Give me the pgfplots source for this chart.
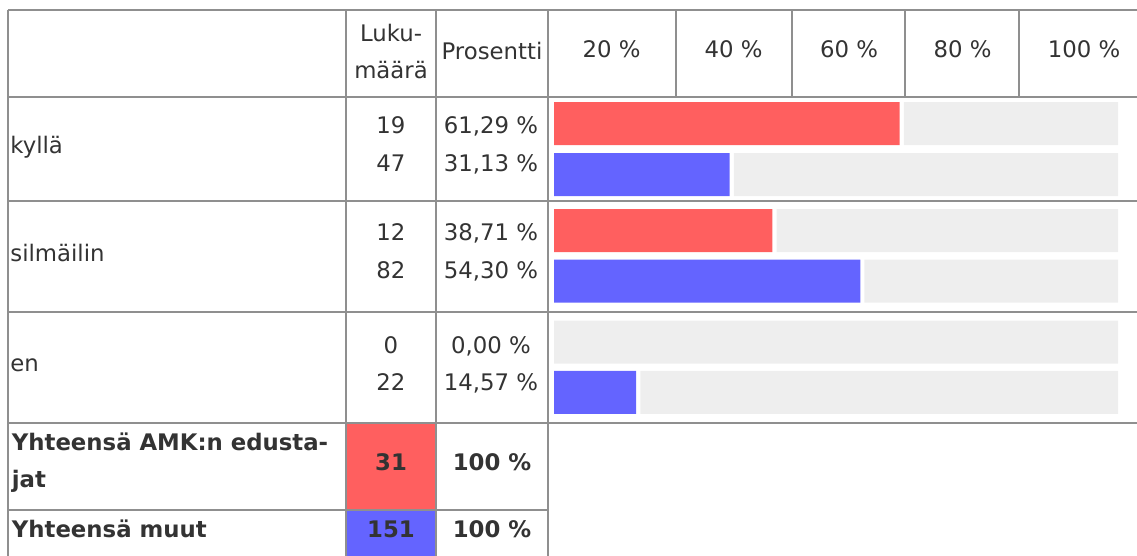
\documentclass[border=0pt]{standalone}
\usepackage{fontspec}
\setmainfont{DejaVu Sans}
\usepackage{pgfplots}
\pgfplotsset{compat=1.18}
\usepackage{pgfplotstable}
\definecolor{amk}{HTML}{FF5F5F}
\definecolor{muut}{HTML}{6464FF}
\definecolor{track}{HTML}{EEEEEE}
\definecolor{rulec}{HTML}{8F8F8F}
\definecolor{tc}{HTML}{333333}

% AMK:n edustajat (red) and muut (blue): y = pixel row of the bar centre,
% val = percentage, gap = white gap, rest = grey remainder
\pgfplotstableread{
y     val   gap  rest
123.5 61.29 0.75 37.96
230.5 38.71 0.75 60.54
342   0     0    100
}\amktab
\pgfplotstableread{
y     val   gap  rest
174.5 31.13 0.75 68.12
281   54.30 0.75 44.95
392.3 14.57 0.75 84.68
}\muuttab

\tikzset{
  txt/.style={text=tc, inner sep=0pt, font=\fontsize{11.4}{13}\selectfont},
  btxt/.style={text=tc, inner sep=0pt, font=\fontsize{11.4}{13}\selectfont\bfseries},
  rl/.style={draw=rulec, line width=1pt},
}

\begin{document}
\begin{tikzpicture}
\begin{axis}[at={(0pt,0pt)}, anchor=north west, width=568.5pt, height=278pt,
  scale only axis, xmin=0, xmax=1137, ymin=0, ymax=556, y dir=reverse,
  hide axis, clip=false]
  % coloured total cells
  \fill[amk] (axis cs:346,422.7) rectangle (axis cs:436,509.6);
  \fill[muut] (axis cs:346,509.6) rectangle (axis cs:436,556);
  % horizontal rules
  \draw[rl] (axis cs:7.8,10) -- (axis cs:1137,10);
  \draw[rl] (axis cs:7.8,96.7) -- (axis cs:1137,96.7);
  \draw[rl] (axis cs:7.8,200.7) -- (axis cs:1137,200.7);
  \draw[rl] (axis cs:7.8,311.8) -- (axis cs:1137,311.8);
  \draw[rl] (axis cs:7.8,422.7) -- (axis cs:1137,422.7);
  \draw[rl] (axis cs:7.8,509.6) -- (axis cs:548.3,509.6);
  % vertical rules
  \draw[rl] (axis cs:8.3,9.5) -- (axis cs:8.3,556);
  \draw[rl] (axis cs:346,9.5) -- (axis cs:346,556);
  \draw[rl] (axis cs:436,9.5) -- (axis cs:436,556);
  \draw[rl] (axis cs:548.3,9.5) -- (axis cs:548.3,556);
  \draw[rl] (axis cs:676,9.5) -- (axis cs:676,96.7);
  \draw[rl] (axis cs:791.6,9.5) -- (axis cs:791.6,96.7);
  \draw[rl] (axis cs:904.7,9.5) -- (axis cs:904.7,96.7);
  \draw[rl] (axis cs:1019,9.5) -- (axis cs:1019,96.7);
  % header
  \node[txt, anchor=base] at (axis cs:391,41) {Luku-};
  \node[txt, anchor=base] at (axis cs:391,78.4) {määrä};
  \node[txt, anchor=base] at (axis cs:492,59.5) {Prosentti};
  \node[txt, anchor=base] at (axis cs:611.5,57) {20 \%};
  \node[txt, anchor=base] at (axis cs:733.7,57) {40 \%};
  \node[txt, anchor=base] at (axis cs:849,57) {60 \%};
  \node[txt, anchor=base] at (axis cs:962.5,57) {80 \%};
  \node[txt, anchor=base] at (axis cs:1084,57) {100 \%};
  % kyllä
  \node[txt, anchor=base west] at (axis cs:10,153) {kyllä};
  \node[txt, anchor=base] at (axis cs:391,133.3) {19};
  \node[txt, anchor=base] at (axis cs:391,171.7) {47};
  \node[txt, anchor=base] at (axis cs:491,133.3) {61,29 \%};
  \node[txt, anchor=base] at (axis cs:491,171.7) {31,13 \%};
  % silmäilin
  \node[txt, anchor=base west] at (axis cs:10,261) {silmäilin};
  \node[txt, anchor=base] at (axis cs:391,240) {12};
  \node[txt, anchor=base] at (axis cs:391,278.3) {82};
  \node[txt, anchor=base] at (axis cs:491,240) {38,71 \%};
  \node[txt, anchor=base] at (axis cs:491,278.3) {54,30 \%};
  % en
  \node[txt, anchor=base west] at (axis cs:10,371.3) {en};
  \node[txt, anchor=base] at (axis cs:391,353.3) {0};
  \node[txt, anchor=base] at (axis cs:391,390.7) {22};
  \node[txt, anchor=base] at (axis cs:491,353.3) {0,00 \%};
  \node[txt, anchor=base] at (axis cs:491,390.7) {14,57 \%};
  % totals
  \node[btxt, anchor=base west] at (axis cs:11.5,450) {Yhteensä AMK:n edusta-};
  \node[btxt, anchor=base west] at (axis cs:11.5,487.4) {jat};
  \node[btxt, anchor=base] at (axis cs:391,470.5) {31};
  \node[btxt, anchor=base] at (axis cs:492,470.5) {100 \%};
  \node[btxt, anchor=base west] at (axis cs:11.5,537) {Yhteensä muut};
  \node[btxt, anchor=base] at (axis cs:391,537.5) {151};
  \node[btxt, anchor=base] at (axis cs:492,537.5) {100 \%};
\end{axis}

% bars: AMK:n edustajat
\begin{axis}[at={(277pt,0pt)}, anchor=north west, width=282pt, height=278pt,
  scale only axis, xmin=0, xmax=100, ymin=0, ymax=556, y dir=reverse,
  hide axis, clip=false, xbar stacked, bar width=43]
  \addplot[fill=amk, draw=none] table[x=val, y=y] {\amktab};
  \addplot[fill=none, draw=none] table[x=gap, y=y] {\amktab};
  \addplot[fill=track, draw=none] table[x=rest, y=y] {\amktab};
\end{axis}

% bars: muut
\begin{axis}[at={(277pt,0pt)}, anchor=north west, width=282pt, height=278pt,
  scale only axis, xmin=0, xmax=100, ymin=0, ymax=556, y dir=reverse,
  hide axis, clip=false, xbar stacked, bar width=43]
  \addplot[fill=muut, draw=none] table[x=val, y=y] {\muuttab};
  \addplot[fill=none, draw=none] table[x=gap, y=y] {\muuttab};
  \addplot[fill=track, draw=none] table[x=rest, y=y] {\muuttab};
\end{axis}
\pgfresetboundingbox
\useasboundingbox (0pt,-278pt) rectangle (568.5pt,0pt);
\end{tikzpicture}
\end{document}
